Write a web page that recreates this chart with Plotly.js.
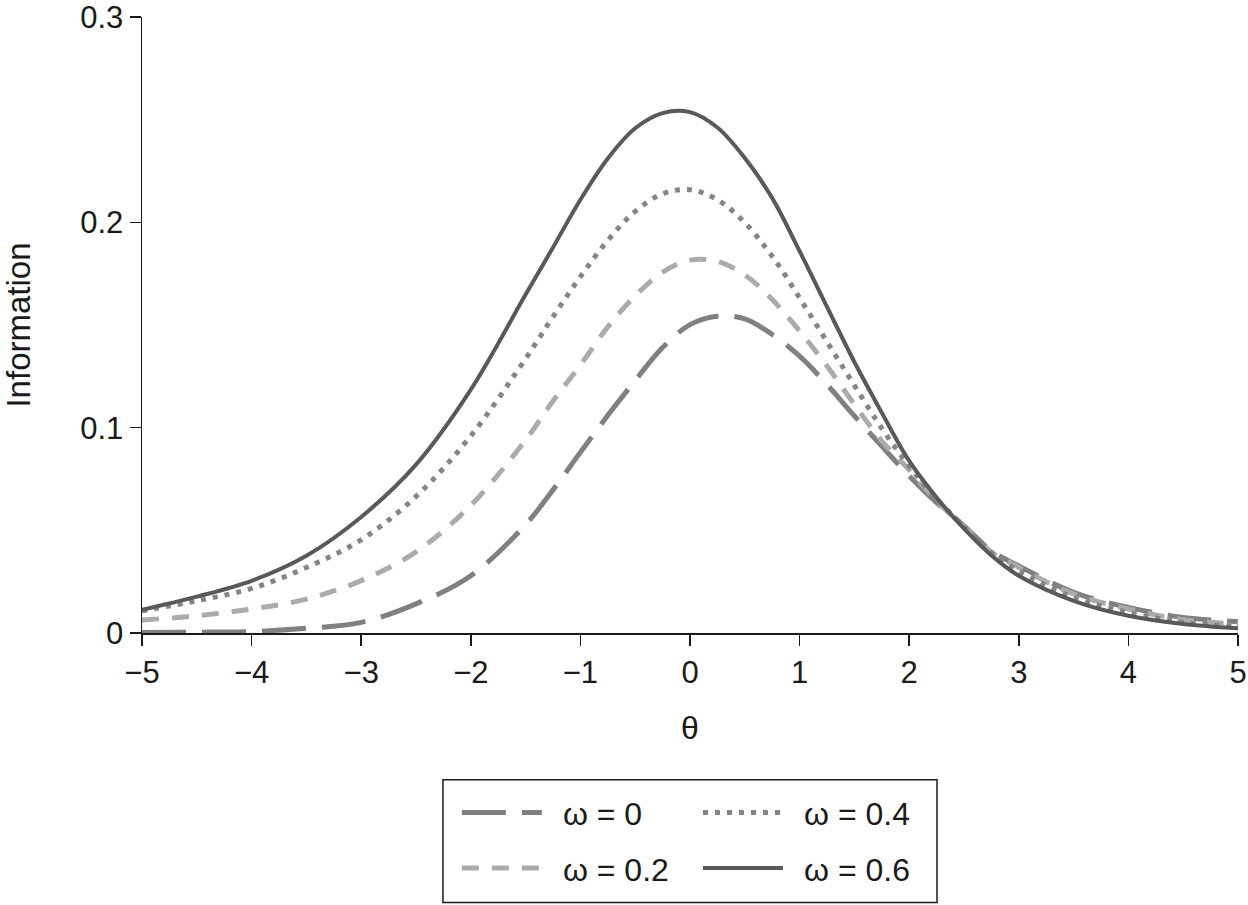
<!DOCTYPE html>
<html>
<head>
<meta charset="utf-8">
<script src="https://cdn.plot.ly/plotly-3.0.1.min.js"></script>
<style>
  html, body { margin: 0; padding: 0; background: #fff; }
  #chart { width: 1248px; height: 905px; }
</style>
</head>
<body>
<div id="chart"></div>
<script>
// theta grid shared by all curves
var theta = [-5, -4.5, -4, -3.5, -3, -2.5, -2, -1.5, -1.25, -1, -0.75, -0.5, -0.25, 0,
    0.25, 0.5, 0.75, 1, 1.25, 1.5, 1.75, 2, 2.25, 2.5, 2.75, 3, 3.5, 4, 4.5, 5];

// information values
var info00 = [0.0003, 0.0004, 0.0007, 0.0023, 0.0052, 0.0142, 0.0279, 0.0528, 0.0697, 0.088,
    0.106, 0.123, 0.139, 0.1502, 0.1543, 0.153, 0.1454, 0.1348, 0.121, 0.1057,
    0.091, 0.0765, 0.0635, 0.0522, 0.040, 0.0327, 0.0198, 0.0125, 0.0076, 0.0055];
var info02 = [0.0063, 0.0084, 0.0117, 0.0165, 0.0255, 0.0395, 0.0622, 0.094, 0.113, 0.1305,
    0.1491, 0.1642, 0.1757, 0.1816, 0.181, 0.1744, 0.1624, 0.147, 0.130, 0.1113,
    0.0935, 0.0795, 0.0643, 0.0518, 0.0395, 0.032, 0.019, 0.0117, 0.0065, 0.0044];
var info04 = [0.0108, 0.0157, 0.0217, 0.0319, 0.0454, 0.0665, 0.096, 0.1336, 0.154, 0.1735,
    0.1912, 0.2053, 0.2139, 0.2159, 0.211, 0.1998, 0.1835, 0.1632, 0.1418, 0.1206,
    0.0997, 0.0812, 0.0652, 0.052, 0.039, 0.0303, 0.0173, 0.0101, 0.0052, 0.0033];
var info06 = [0.0113, 0.0177, 0.0254, 0.0376, 0.0565, 0.0820, 0.1185, 0.1648, 0.1878, 0.211,
    0.2311, 0.2458, 0.2532, 0.2537, 0.2462, 0.2313, 0.2118, 0.186, 0.1588, 0.132,
    0.1073, 0.0838, 0.066, 0.0508, 0.0378, 0.0279, 0.0157, 0.0084, 0.0044, 0.0023];

// legend labels (en space pushes the text away from the line sample)
var names = ['\u2002ω = 0', '\u2002ω = 0.2', '\u2002ω = 0.4', '\u2002ω = 0.6'];

var font = 'Liberation Sans, Arial, sans-serif';

function curve(y, name, color, width, dash, legend) {
    return {
        x: theta,
        y: y,
        name: name,
        type: 'scatter',
        mode: 'lines',
        line: {color: color, width: width, dash: dash, shape: 'spline', smoothing: 1},
        legend: legend,
        legendgroup: name,
        hoverinfo: 'x+y+name'
    };
}

var data = [
    curve(info00, names[0], '#808080', 5, '44px,16px', 'legend'),
    curve(info02, names[1], '#ababab', 5, '17px,13px', 'legend'),
    curve(info04, names[2], '#858585', 5, '5px,7px', 'legend2'),
    curve(info06, names[3], '#595959', 4, 'solid', 'legend2')
];

var legendStyle = {
    orientation: 'v',
    xanchor: 'left',
    yanchor: 'top',
    y: -0.245,
    bgcolor: 'rgba(0,0,0,0)',
    borderwidth: 0,
    font: {family: font, size: 32, color: '#1a1a1a'},
    itemwidth: 80,
    tracegroupgap: 11,
    itemclick: false,
    itemdoubleclick: false
};

var layout = {
    width: 1248,
    height: 905,
    margin: {l: 142, r: 10, t: 17, b: 271},
    paper_bgcolor: '#fff',
    plot_bgcolor: '#fff',
    font: {family: font, size: 32, color: '#1a1a1a'},
    showlegend: true,
    legend: Object.assign({}, legendStyle, {x: 0.2873}),
    legend2: Object.assign({}, legendStyle, {x: 0.5073}),
    xaxis: {
        range: [-5, 5],
        dtick: 1,
        tick0: 0,
        ticks: 'outside',
        ticklen: 11,
        tickwidth: 1.5,
        tickcolor: '#1a1a1a',
        showline: true,
        linecolor: '#1a1a1a',
        linewidth: 1.5,
        showgrid: false,
        zeroline: false,
        ticklabeloverflow: 'allow',
        tickfont: {family: font, size: 31, color: '#1a1a1a'},
        title: {text: 'θ', standoff: 28, font: {family: font, size: 32, color: '#1a1a1a'}}
    },
    yaxis: {
        range: [0, 0.3],
        dtick: 0.1,
        ticks: 'outside',
        ticklen: 11,
        tickwidth: 1.5,
        tickcolor: '#1a1a1a',
        showline: true,
        linecolor: '#1a1a1a',
        linewidth: 1.5,
        showgrid: false,
        zeroline: false,
        ticklabeloverflow: 'allow',
        tickfont: {family: font, size: 31, color: '#1a1a1a'},
        title: {text: 'Information', standoff: 40, font: {family: font, size: 33, color: '#1a1a1a'}}
    },
    shapes: [{
        type: 'rect',
        xref: 'paper',
        yref: 'paper',
        x0: 0.2746, x1: 0.7254,
        y0: -0.2382, y1: -0.4376,
        line: {color: '#1a1a1a', width: 1.5},
        fillcolor: 'rgba(0,0,0,0)'
    }]
};

Plotly.newPlot('chart', data, layout, {displayModeBar: false, staticPlot: true});
</script>
</body>
</html>
